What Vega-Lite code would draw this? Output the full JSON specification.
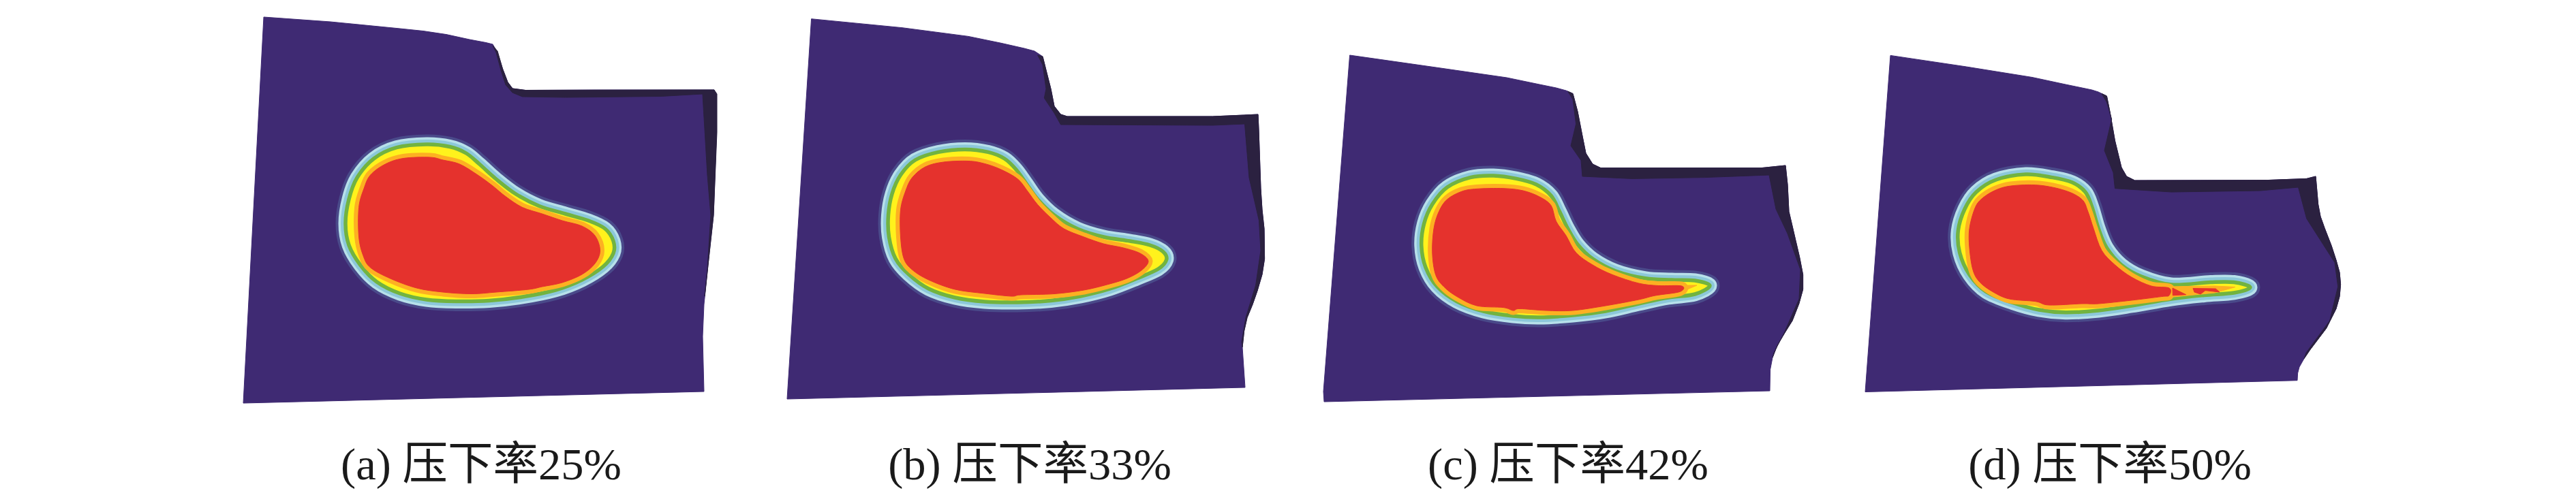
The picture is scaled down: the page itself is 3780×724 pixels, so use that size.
{"$schema":"https://vega.github.io/schema/vega-lite/v6.json","width":3780,"height":724,"autosize":{"type":"fit","contains":"padding"},"padding":0,"background":"white","config":{"view":{"stroke":null}},
"datasets":{
"plate":[
{"p":"a","x":387,"y":25},{"p":"a","x":485,"y":32},{"p":"a","x":534,"y":36.8},{"p":"a","x":582,"y":41.5},{"p":"a","x":621,"y":45.5},{"p":"a","x":655,"y":50.6},{"p":"a","x":689,"y":58},{"p":"a","x":713,"y":62.5},{"p":"a","x":723,"y":65},{"p":"a","x":730,"y":77},{"p":"a","x":737.5,"y":101},{"p":"a","x":745,"y":120.6},{"p":"a","x":752,"y":130},{"p":"a","x":771,"y":132.5},{"p":"a","x":873,"y":132},{"p":"a","x":970,"y":132},{"p":"a","x":1048,"y":132},{"p":"a","x":1050,"y":138},{"p":"a","x":1051.5,"y":194},{"p":"a","x":1047,"y":316},{"p":"a","x":1040,"y":380},{"p":"a","x":1033,"y":447},{"p":"a","x":1031,"y":494},{"p":"a","x":1033,"y":575},{"p":"a","x":357,"y":592},
{"p":"b","x":1190.6,"y":27.7},{"p":"b","x":1324,"y":40.7},{"p":"b","x":1421,"y":53.4},{"p":"b","x":1469,"y":63.3},{"p":"b","x":1503,"y":71},{"p":"b","x":1518,"y":75},{"p":"b","x":1530,"y":83},{"p":"b","x":1535,"y":103},{"p":"b","x":1542,"y":130.5},{"p":"b","x":1547,"y":156},{"p":"b","x":1556.5,"y":168},{"p":"b","x":1566,"y":171},{"p":"b","x":1779.5,"y":171},{"p":"b","x":1825.5,"y":169},{"p":"b","x":1846,"y":168},{"p":"b","x":1847,"y":190},{"p":"b","x":1850,"y":277},{"p":"b","x":1852,"y":308},{"p":"b","x":1855,"y":336},{"p":"b","x":1855.6,"y":380},{"p":"b","x":1852,"y":403},{"p":"b","x":1845,"y":427},{"p":"b","x":1838,"y":447},{"p":"b","x":1830,"y":466.6},{"p":"b","x":1825.6,"y":486},{"p":"b","x":1823,"y":510},{"p":"b","x":1827,"y":569},{"p":"b","x":1155,"y":586},
{"p":"c","x":1980.6,"y":81},{"p":"c","x":2114,"y":100},{"p":"c","x":2211,"y":114},{"p":"c","x":2259,"y":124},{"p":"c","x":2283.5,"y":129},{"p":"c","x":2298,"y":133},{"p":"c","x":2308,"y":137.5},{"p":"c","x":2315,"y":164},{"p":"c","x":2322,"y":200},{"p":"c","x":2327,"y":225},{"p":"c","x":2337,"y":241},{"p":"c","x":2349,"y":246.7},{"p":"c","x":2584,"y":246.7},{"p":"c","x":2620,"y":243},{"p":"c","x":2623,"y":271},{"p":"c","x":2625,"y":310.6},{"p":"c","x":2630,"y":332},{"p":"c","x":2635,"y":353.5},{"p":"c","x":2640.8,"y":378.4},{"p":"c","x":2645.6,"y":403.4},{"p":"c","x":2645.6,"y":425},{"p":"c","x":2639.8,"y":446},{"p":"c","x":2630,"y":471},{"p":"c","x":2620,"y":487},{"p":"c","x":2608,"y":507},{"p":"c","x":2601,"y":525},{"p":"c","x":2597.6,"y":542.7},{"p":"c","x":2597,"y":574},{"p":"c","x":1943,"y":590},{"p":"c","x":1942,"y":575},
{"p":"d","x":2774,"y":81.4},{"p":"d","x":2885.4,"y":98},{"p":"d","x":2982,"y":113.5},{"p":"d","x":3031,"y":124},{"p":"d","x":3069.6,"y":132},{"p":"d","x":3079,"y":135},{"p":"d","x":3091.4,"y":141},{"p":"d","x":3096,"y":164},{"p":"d","x":3103.5,"y":207},{"p":"d","x":3113,"y":246},{"p":"d","x":3120.5,"y":259},{"p":"d","x":3132.6,"y":265},{"p":"d","x":3326.5,"y":264.6},{"p":"d","x":3384.7,"y":262.4},{"p":"d","x":3398,"y":259},{"p":"d","x":3401.6,"y":300},{"p":"d","x":3405,"y":318},{"p":"d","x":3411.3,"y":335.6},{"p":"d","x":3421,"y":360.6},{"p":"d","x":3428,"y":382},{"p":"d","x":3433,"y":400},{"p":"d","x":3434.6,"y":417.7},{"p":"d","x":3433,"y":435.6},{"p":"d","x":3428,"y":453.4},{"p":"d","x":3413.7,"y":482},{"p":"d","x":3401.6,"y":498},{"p":"d","x":3389.5,"y":514},{"p":"d","x":3381,"y":526.6},{"p":"d","x":3374,"y":539},{"p":"d","x":3371.6,"y":548},{"p":"d","x":3371,"y":558.7},{"p":"d","x":2737,"y":575.5}
],
"dark":[
{"p":"a","x":723,"y":67},{"p":"a","x":730,"y":75},{"p":"a","x":737.5,"y":101},{"p":"a","x":745,"y":120.6},{"p":"a","x":752,"y":130},{"p":"a","x":771,"y":132.5},{"p":"a","x":1048,"y":132},{"p":"a","x":1052,"y":138},{"p":"a","x":1052,"y":194},{"p":"a","x":1047,"y":316},{"p":"a","x":1040,"y":380},{"p":"a","x":1034,"y":435},{"p":"a","x":1038,"y":395},{"p":"a","x":1043,"y":316},{"p":"a","x":1038,"y":257},{"p":"a","x":1031,"y":138},{"p":"a","x":970,"y":141.5},{"p":"a","x":829.5,"y":143},{"p":"a","x":766.5,"y":142},{"p":"a","x":752,"y":136},{"p":"a","x":742,"y":124.5},{"p":"a","x":735,"y":103},{"p":"a","x":728,"y":77},
{"p":"b","x":1522.6,"y":81},{"p":"b","x":1530,"y":83},{"p":"b","x":1535,"y":103},{"p":"b","x":1542,"y":130.5},{"p":"b","x":1547,"y":156},{"p":"b","x":1556.5,"y":168},{"p":"b","x":1566,"y":171},{"p":"b","x":1779.5,"y":171},{"p":"b","x":1825.5,"y":169},{"p":"b","x":1846,"y":168},{"p":"b","x":1847,"y":190},{"p":"b","x":1850,"y":277},{"p":"b","x":1852,"y":308},{"p":"b","x":1855,"y":336},{"p":"b","x":1855.6,"y":380},{"p":"b","x":1852,"y":403},{"p":"b","x":1845,"y":427},{"p":"b","x":1838,"y":447},{"p":"b","x":1830,"y":466.6},{"p":"b","x":1825.6,"y":486},{"p":"b","x":1823,"y":510},{"p":"b","x":1822,"y":502},{"p":"b","x":1828,"y":466.6},{"p":"b","x":1842.6,"y":419},{"p":"b","x":1850,"y":368},{"p":"b","x":1847.5,"y":324},{"p":"b","x":1833,"y":261},{"p":"b","x":1826.5,"y":182},{"p":"b","x":1779.5,"y":184},{"p":"b","x":1556.5,"y":183},{"p":"b","x":1547,"y":166},{"p":"b","x":1532.3,"y":144},{"p":"b","x":1535,"y":130.5},{"p":"b","x":1530,"y":95},
{"p":"c","x":2300.5,"y":134},{"p":"c","x":2308,"y":137.5},{"p":"c","x":2315,"y":164},{"p":"c","x":2322,"y":200},{"p":"c","x":2327,"y":225},{"p":"c","x":2337,"y":241},{"p":"c","x":2349,"y":246.7},{"p":"c","x":2584,"y":246.7},{"p":"c","x":2620,"y":243},{"p":"c","x":2623,"y":271},{"p":"c","x":2625,"y":310.6},{"p":"c","x":2630,"y":332},{"p":"c","x":2635,"y":353.5},{"p":"c","x":2640.8,"y":378.4},{"p":"c","x":2645.6,"y":403.4},{"p":"c","x":2645.6,"y":425},{"p":"c","x":2639.8,"y":446},{"p":"c","x":2630,"y":471},{"p":"c","x":2620,"y":487},{"p":"c","x":2608,"y":507},{"p":"c","x":2601,"y":525},{"p":"c","x":2603,"y":518},{"p":"c","x":2618,"y":489},{"p":"c","x":2640,"y":439},{"p":"c","x":2642,"y":396},{"p":"c","x":2623,"y":343},{"p":"c","x":2606,"y":307},{"p":"c","x":2596,"y":257},{"p":"c","x":2501.6,"y":260.6},{"p":"c","x":2395,"y":262.4},{"p":"c","x":2322,"y":259},{"p":"c","x":2320,"y":235.6},{"p":"c","x":2305,"y":214},{"p":"c","x":2312.6,"y":182},{"p":"c","x":2308,"y":146},
{"p":"d","x":3084,"y":137.5},{"p":"d","x":3091.4,"y":141},{"p":"d","x":3096,"y":164},{"p":"d","x":3103.5,"y":207},{"p":"d","x":3113,"y":246},{"p":"d","x":3120.5,"y":259},{"p":"d","x":3132.6,"y":265},{"p":"d","x":3326.5,"y":264.6},{"p":"d","x":3384.7,"y":262.4},{"p":"d","x":3398,"y":259},{"p":"d","x":3401.6,"y":300},{"p":"d","x":3405,"y":318},{"p":"d","x":3411.3,"y":335.6},{"p":"d","x":3421,"y":360.6},{"p":"d","x":3428,"y":382},{"p":"d","x":3433,"y":400},{"p":"d","x":3434.6,"y":417.7},{"p":"d","x":3433,"y":435.6},{"p":"d","x":3428,"y":453.4},{"p":"d","x":3413.7,"y":482},{"p":"d","x":3401.6,"y":498},{"p":"d","x":3389.5,"y":514},{"p":"d","x":3381,"y":526.6},{"p":"d","x":3384,"y":518},{"p":"d","x":3418.6,"y":471},{"p":"d","x":3430.7,"y":421},{"p":"d","x":3426,"y":385.6},{"p":"d","x":3384.7,"y":321},{"p":"d","x":3372.5,"y":275},{"p":"d","x":3316.8,"y":280},{"p":"d","x":3186,"y":282},{"p":"d","x":3103.5,"y":276.7},{"p":"d","x":3101,"y":253.5},{"p":"d","x":3088,"y":221},{"p":"d","x":3098.7,"y":175},{"p":"d","x":3091.4,"y":150}
],
"contour":[
{"p":"a","x":626,"y":212},{"p":"a","x":660,"y":215.5},{"p":"a","x":684,"y":225},{"p":"a","x":703.5,"y":241},{"p":"a","x":728,"y":263},{"p":"a","x":757,"y":285},{"p":"a","x":791,"y":302.5},{"p":"a","x":829.5,"y":314},{"p":"a","x":863.5,"y":324},{"p":"a","x":888,"y":336},{"p":"a","x":900,"y":354},{"p":"a","x":900,"y":372},{"p":"a","x":885,"y":391.5},{"p":"a","x":854,"y":411},{"p":"a","x":815,"y":426},{"p":"a","x":766.5,"y":436},{"p":"a","x":718,"y":441.5},{"p":"a","x":669.5,"y":442.5},{"p":"a","x":626,"y":440},{"p":"a","x":587,"y":431},{"p":"a","x":553,"y":414},{"p":"a","x":529,"y":389.5},{"p":"a","x":512,"y":360},{"p":"a","x":507,"y":328},{"p":"a","x":512,"y":292.5},{"p":"a","x":524,"y":261},{"p":"a","x":548.5,"y":233},{"p":"a","x":582,"y":216.7},
{"p":"b","x":1416,"y":219.4},{"p":"b","x":1450,"y":223.4},{"p":"b","x":1474,"y":233},{"p":"b","x":1491,"y":249},{"p":"b","x":1505.6,"y":269},{"p":"b","x":1522.6,"y":292.6},{"p":"b","x":1547,"y":316},{"p":"b","x":1581,"y":336},{"p":"b","x":1619.5,"y":348},{"p":"b","x":1658,"y":354},{"p":"b","x":1687.4,"y":360},{"p":"b","x":1706.8,"y":369.7},{"p":"b","x":1711.6,"y":381.6},{"p":"b","x":1699.5,"y":395},{"p":"b","x":1668,"y":409},{"p":"b","x":1629,"y":424},{"p":"b","x":1585.6,"y":435},{"p":"b","x":1542,"y":441.5},{"p":"b","x":1493.5,"y":444},{"p":"b","x":1445,"y":443},{"p":"b","x":1401.4,"y":437},{"p":"b","x":1362.7,"y":424},{"p":"b","x":1333.6,"y":403},{"p":"b","x":1314,"y":379.6},{"p":"b","x":1304.5,"y":348},{"p":"b","x":1303.5,"y":316},{"p":"b","x":1309,"y":284.7},{"p":"b","x":1321.5,"y":257},{"p":"b","x":1343,"y":235},{"p":"b","x":1377,"y":223.4},
{"p":"c","x":2191.4,"y":258},{"p":"c","x":2225,"y":262.4},{"p":"c","x":2254.4,"y":271},{"p":"c","x":2276,"y":287.4},{"p":"c","x":2288.4,"y":310.6},{"p":"c","x":2300.5,"y":335.6},{"p":"c","x":2315,"y":359},{"p":"c","x":2337,"y":380},{"p":"c","x":2370.8,"y":398},{"p":"c","x":2414.4,"y":408.8},{"p":"c","x":2453,"y":411},{"p":"c","x":2487,"y":412},{"p":"c","x":2509,"y":419.5},{"p":"c","x":2487,"y":432},{"p":"c","x":2448,"y":437},{"p":"c","x":2404.7,"y":446},{"p":"c","x":2356,"y":457},{"p":"c","x":2307.8,"y":463},{"p":"c","x":2259,"y":466},{"p":"c","x":2220.5,"y":464},{"p":"c","x":2177,"y":457},{"p":"c","x":2138,"y":442.7},{"p":"c","x":2109,"y":421},{"p":"c","x":2092,"y":392.7},{"p":"c","x":2085.8,"y":360.6},{"p":"c","x":2089.6,"y":328.5},{"p":"c","x":2101.8,"y":300},{"p":"c","x":2123.6,"y":275},{"p":"c","x":2157.5,"y":260.6},
{"p":"d","x":2972.7,"y":256},{"p":"d","x":3011.4,"y":260.6},{"p":"d","x":3040.5,"y":267.8},{"p":"d","x":3060,"y":282},{"p":"d","x":3069.6,"y":303.5},{"p":"d","x":3079.3,"y":335.6},{"p":"d","x":3091.4,"y":364},{"p":"d","x":3113,"y":389},{"p":"d","x":3142.3,"y":406},{"p":"d","x":3186,"y":418},{"p":"d","x":3244,"y":414.5},{"p":"d","x":3278,"y":414.5},{"p":"d","x":3302,"y":422},{"p":"d","x":3278,"y":430},{"p":"d","x":3234.4,"y":433.5},{"p":"d","x":3186,"y":439},{"p":"d","x":3127.8,"y":449},{"p":"d","x":3079.3,"y":456},{"p":"d","x":3030.8,"y":458.8},{"p":"d","x":2992,"y":455},{"p":"d","x":2953.3,"y":444.5},{"p":"d","x":2914.5,"y":428.4},{"p":"d","x":2890,"y":403.4},{"p":"d","x":2875.7,"y":371.3},{"p":"d","x":2873.3,"y":339},{"p":"d","x":2883,"y":307},{"p":"d","x":2900,"y":282},{"p":"d","x":2929,"y":264}
],
"core":[
{"p":"a","x":592,"y":232.5},{"p":"a","x":631,"y":231},{"p":"a","x":650,"y":235},{"p":"a","x":674.5,"y":241},{"p":"a","x":701,"y":257},{"p":"a","x":723,"y":273},{"p":"a","x":742,"y":288.6},{"p":"a","x":766.5,"y":304.5},{"p":"a","x":795.6,"y":314},{"p":"a","x":825,"y":324},{"p":"a","x":854,"y":332},{"p":"a","x":873,"y":346},{"p":"a","x":880.5,"y":368},{"p":"a","x":873,"y":387},{"p":"a","x":854,"y":403},{"p":"a","x":825,"y":415},{"p":"a","x":795.6,"y":421},{"p":"a","x":776,"y":425},{"p":"a","x":728,"y":429},{"p":"a","x":692,"y":431.5},{"p":"a","x":650,"y":429},{"p":"a","x":611.4,"y":423},{"p":"a","x":572.7,"y":409},{"p":"a","x":543.6,"y":393},{"p":"a","x":533,"y":375.6},{"p":"a","x":526.6,"y":348},{"p":"a","x":526.6,"y":304.5},{"p":"a","x":534,"y":277},{"p":"a","x":543.6,"y":257},{"p":"a","x":565.4,"y":241},
{"p":"b","x":1384.5,"y":238},{"p":"b","x":1421,"y":236.5},{"p":"b","x":1445,"y":240.4},{"p":"b","x":1469,"y":249},{"p":"b","x":1493.5,"y":263},{"p":"b","x":1508,"y":281},{"p":"b","x":1522.6,"y":300.5},{"p":"b","x":1542,"y":320},{"p":"b","x":1561.4,"y":336},{"p":"b","x":1590.5,"y":348},{"p":"b","x":1619.5,"y":358},{"p":"b","x":1648.6,"y":364},{"p":"b","x":1673,"y":372},{"p":"b","x":1685,"y":383.5},{"p":"b","x":1675,"y":397},{"p":"b","x":1653.5,"y":409},{"p":"b","x":1624.4,"y":418},{"p":"b","x":1590.5,"y":426},{"p":"b","x":1547,"y":431.5},{"p":"b","x":1498,"y":433},{"p":"b","x":1484,"y":435},{"p":"b","x":1445,"y":431},{"p":"b","x":1401.4,"y":425},{"p":"b","x":1362.7,"y":411},{"p":"b","x":1338.4,"y":396},{"p":"b","x":1326.3,"y":379.6},{"p":"b","x":1321.5,"y":348},{"p":"b","x":1321.5,"y":308.4},{"p":"b","x":1328.7,"y":281},{"p":"b","x":1338.4,"y":261},{"p":"b","x":1357.8,"y":245},
{"p":"c","x":2167,"y":277.4},{"p":"c","x":2206,"y":276.7},{"p":"c","x":2235,"y":280},{"p":"c","x":2259,"y":289},{"p":"c","x":2276,"y":301.7},{"p":"c","x":2283.5,"y":325},{"p":"c","x":2298,"y":346},{"p":"c","x":2312.6,"y":371},{"p":"c","x":2337,"y":389},{"p":"c","x":2366,"y":403.4},{"p":"c","x":2404.7,"y":416},{"p":"c","x":2433.8,"y":419.5},{"p":"c","x":2467.7,"y":420},{"p":"c","x":2465,"y":428.4},{"p":"c","x":2429,"y":434},{"p":"c","x":2404.7,"y":440},{"p":"c","x":2356,"y":449},{"p":"c","x":2307.8,"y":456},{"p":"c","x":2269,"y":456},{"p":"c","x":2230,"y":453.4},{"p":"c","x":2220.5,"y":456},{"p":"c","x":2206,"y":451.6},{"p":"c","x":2167,"y":449},{"p":"c","x":2138,"y":435.6},{"p":"c","x":2118.7,"y":421},{"p":"c","x":2106.6,"y":403.4},{"p":"c","x":2101.8,"y":371},{"p":"c","x":2104,"y":335.6},{"p":"c","x":2111.5,"y":310.6},{"p":"c","x":2123.6,"y":292.8},{"p":"c","x":2145.4,"y":281},
{"p":"d","x":2950.8,"y":273},{"p":"d","x":2992,"y":272},{"p":"d","x":3030.8,"y":280},{"p":"d","x":3055,"y":292.8},{"p":"d","x":3063.8,"y":310.6},{"p":"d","x":3072,"y":335.6},{"p":"d","x":3084,"y":367.7},{"p":"d","x":3103.5,"y":389},{"p":"d","x":3127.8,"y":407},{"p":"d","x":3156.8,"y":420},{"p":"d","x":3183,"y":423},{"p":"d","x":3183,"y":433.8},{"p":"d","x":3171.4,"y":435.6},{"p":"d","x":3127.8,"y":441},{"p":"d","x":3079.3,"y":446},{"p":"d","x":3055,"y":446},{"p":"d","x":3006.6,"y":448},{"p":"d","x":2987,"y":442.7},{"p":"d","x":2948.4,"y":439},{"p":"d","x":2924,"y":428.4},{"p":"d","x":2904.8,"y":414},{"p":"d","x":2895,"y":396.3},{"p":"d","x":2890,"y":364},{"p":"d","x":2890,"y":335.6},{"p":"d","x":2897.5,"y":307},{"p":"d","x":2907,"y":292.8},{"p":"d","x":2926.6,"y":280}
],
"tail":[
{"p":"c","x":2460,"y":419},{"p":"c","x":2490,"y":419},{"p":"c","x":2464,"y":430},
{"p":"d","x":3180,"y":421},{"p":"d","x":3250,"y":420},{"p":"d","x":3280,"y":421.5},{"p":"d","x":3250,"y":430},{"p":"d","x":3180,"y":437}
],
"island":[
{"p":"d1","x":3188,"y":423},{"p":"d1","x":3207.7,"y":432.7},{"p":"d1","x":3188.3,"y":433.8},
{"p":"d2","x":3218,"y":423.5},{"p":"d2","x":3251.3,"y":424},{"p":"d2","x":3257,"y":429},{"p":"d2","x":3236,"y":426.6},{"p":"d2","x":3229,"y":432},{"p":"d2","x":3220,"y":429}
],
"labels":[
{"t":"(a) 压下率25%","x":706,"y":704},{"t":"(b) 压下率33%","x":1511,"y":704},{"t":"(c) 压下率42%","x":2301,"y":704},{"t":"(d) 压下率50%","x":3096,"y":704}
]},
"encoding":{
"x":{"field":"x","type":"quantitative","axis":null,"scale":{"domain":[0,3780],"nice":false,"zero":false}},
"y":{"field":"y","type":"quantitative","axis":null,"scale":{"domain":[724,0],"nice":false,"zero":false}}},
"layer":[
{"data":{"name":"plate"},"mark":{"type":"line","interpolate":"linear-closed","fill":"#3f2a73","stroke":"#3f2a73","strokeWidth":1},"encoding":{"detail":{"field":"p"},"order":{"value":null}}},
{"data":{"name":"dark"},"mark":{"type":"line","interpolate":"linear-closed","fill":"#2b2140","stroke":"#2b2140","strokeWidth":1},"encoding":{"detail":{"field":"p"},"order":{"value":null}}},
{"data":{"name":"contour"},"mark":{"type":"line","interpolate":"cardinal-closed","stroke":"#4a4a8a","strokeWidth":29},"encoding":{"detail":{"field":"p"},"order":{"value":null}}},
{"data":{"name":"contour"},"mark":{"type":"line","interpolate":"cardinal-closed","stroke":"#b7e0ea","strokeWidth":21},"encoding":{"detail":{"field":"p"},"order":{"value":null}}},
{"data":{"name":"contour"},"mark":{"type":"line","interpolate":"cardinal-closed","stroke":"#8cc8da","strokeWidth":14},"encoding":{"detail":{"field":"p"},"order":{"value":null}}},
{"data":{"name":"contour"},"mark":{"type":"line","interpolate":"cardinal-closed","fill":"#fff21c","stroke":"#72b340","strokeWidth":5.5},"encoding":{"detail":{"field":"p"},"order":{"value":null}}},
{"data":{"name":"core"},"mark":{"type":"line","interpolate":"cardinal-closed","fill":"#fdb022","stroke":"#fdb022","strokeWidth":13},"encoding":{"detail":{"field":"p"},"order":{"value":null}}},
{"data":{"name":"tail"},"mark":{"type":"line","interpolate":"linear-closed","fill":"#fdb022","stroke":"#fdb022","strokeWidth":1},"encoding":{"detail":{"field":"p"},"order":{"value":null}}},
{"data":{"name":"core"},"mark":{"type":"line","interpolate":"cardinal-closed","fill":"#e5322d","stroke":"#e5322d","strokeWidth":1},"encoding":{"detail":{"field":"p"},"order":{"value":null}}},
{"data":{"name":"island"},"mark":{"type":"line","interpolate":"linear-closed","fill":"#e5322d","stroke":"#e5322d","strokeWidth":1},"encoding":{"detail":{"field":"p"},"order":{"value":null}}},
{"data":{"name":"labels"},"mark":{"type":"text","font":"Liberation Serif, Noto Sans CJK SC","fontSize":66.5,"align":"center","baseline":"alphabetic","color":"#1a1a1a"},"encoding":{"text":{"field":"t"}}}
]}
